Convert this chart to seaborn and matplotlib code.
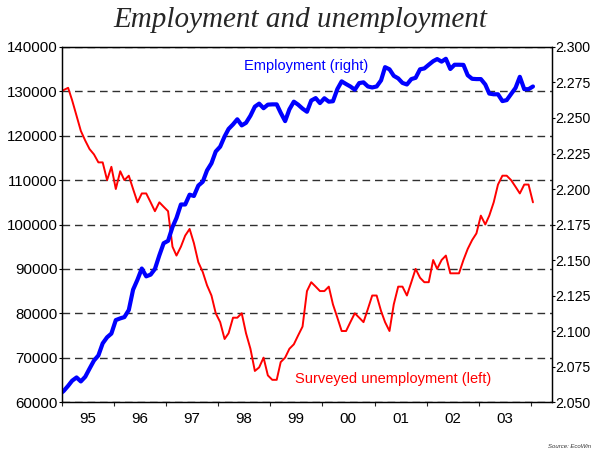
# %%
# * 1. Import packages
import matplotlib
matplotlib.use("Agg")
import matplotlib.pyplot as plt
import matplotlib.dates as mdates
import matplotlib.ticker as mticker
import seaborn as sns
import pandas as pd

# %%
# * 2. Data (monthly, Dec 1994 - Jan 2004)
months = pd.date_range("1994-12-01", periods=110, freq="MS") + pd.Timedelta(days=14)

# Surveyed unemployment (left axis)
unemployment = [
    129500, 130300, 130800, 128000, 124500, 121100, 118900, 117000, 115800, 114000,
    114000, 110000, 113000, 108000, 112000, 110000, 111000, 108000, 105000, 107000,
    107000, 105000, 103000, 105000, 104000, 103000, 95000, 93000, 95000, 97500,
    99000, 95800, 91500, 89300, 86300, 84000, 80000, 78000, 74200, 75500,
    79000, 79000, 80000, 75500, 72000, 67000, 67800, 70000, 66000, 65000,
    65000, 69000, 70000, 72000, 73000, 75000, 77000, 85000, 87000, 86000,
    85000, 85000, 86000, 82000, 79000, 76000, 76000, 78000, 80000, 79000,
    78000, 81000, 84000, 84000, 80500, 78000, 76000, 82000, 86000, 86000,
    84000, 87000, 90000, 88000, 87000, 87000, 92000, 90000, 92000, 93000,
    89000, 89000, 89000, 92000, 94500, 96500, 98000, 102000, 100000, 102000,
    105000, 109000, 111000, 111000, 110000, 108500, 107000, 109000, 109000, 105000,
]

# Employment (right axis)
employment = [
    2.0553, 2.0578, 2.0614, 2.0650, 2.0673, 2.0645, 2.0678, 2.0735, 2.0792, 2.0828,
    2.0913, 2.0956, 2.0982, 2.1077, 2.1089, 2.1098, 2.1148, 2.1291, 2.1362, 2.1440,
    2.1385, 2.1397, 2.1437, 2.1533, 2.1618, 2.1635, 2.1732, 2.1796, 2.1891, 2.1891,
    2.1960, 2.1951, 2.2024, 2.2051, 2.2131, 2.2181, 2.2264, 2.2298, 2.2370, 2.2423,
    2.2455, 2.2491, 2.2448, 2.2466, 2.2516, 2.2580, 2.2601, 2.2569, 2.2594, 2.2596,
    2.2596, 2.2537, 2.2478, 2.2561, 2.2615, 2.2594, 2.2566, 2.2544, 2.2623, 2.2640,
    2.2605, 2.2639, 2.2615, 2.2618, 2.2704, 2.2758, 2.2739, 2.2722, 2.2699, 2.2746,
    2.2751, 2.2722, 2.2715, 2.2722, 2.2765, 2.2858, 2.2843, 2.2797, 2.2779, 2.2747,
    2.2736, 2.2774, 2.2783, 2.2843, 2.2849, 2.2875, 2.2900, 2.2915, 2.2897, 2.2917,
    2.2845, 2.2875, 2.2875, 2.2874, 2.2801, 2.2776, 2.2774, 2.2774, 2.2736, 2.2672,
    2.2667, 2.2667, 2.2619, 2.2626, 2.2669, 2.2712, 2.2790, 2.2703, 2.2703, 2.2722,
]

left_ticks = list(range(60000, 140001, 10000))
right_ticks = [2.050, 2.075, 2.100, 2.125, 2.150, 2.175, 2.200, 2.225, 2.250, 2.275, 2.300]

# %%
# * 3. Style
sns.set_style("ticks")
plt.rcParams["font.family"] = ["Liberation Sans", "DejaVu Sans"]

# %%
# * 4. Plot
fig = plt.figure(figsize=(5.91, 4.51), dpi=100)
ax = fig.add_axes([0.1044, 0.1086, 0.8288, 0.7872])
ax2 = ax.twinx()

sns.lineplot(x=months, y=unemployment, ax=ax, color="#ff0000", linewidth=1.4)
sns.lineplot(x=months, y=employment, ax=ax2, color="#0000ff", linewidth=3.0)

ax.set_xlim(pd.Timestamp("1995-01-01"), pd.Timestamp("2004-05-24"))
ax.set_ylim(60000, 140000)
ax2.set_ylim(2.050, 2.300)
ax.set_yticks(left_ticks)
ax2.set_yticks(right_ticks)
ax.yaxis.set_major_formatter(mticker.FormatStrFormatter("%d"))
ax2.yaxis.set_major_formatter(mticker.FormatStrFormatter("%.3f"))

# years: ticks at year boundaries, labels mid-year
ax.xaxis.set_major_locator(mdates.YearLocator())
ax.xaxis.set_major_formatter(mticker.NullFormatter())
ax.xaxis.set_minor_locator(mdates.MonthLocator(bymonth=7))
ax.xaxis.set_minor_formatter(mdates.DateFormatter("%y"))

ax.yaxis.grid(True, linestyle=(0, (5.5, 3.5)), color="#303030", linewidth=1.0)
ax.set_xlabel("")
ax.set_ylabel("")
ax2.set_ylabel("")

ax.tick_params(axis="y", which="major", length=2, width=0.8, pad=1,
               labelsize=10.8, colors="black")
ax2.tick_params(axis="y", which="major", length=2, width=0.8, pad=0.8,
                labelsize=10.2, colors="black")
ax.tick_params(axis="x", which="major", length=3, width=0.8)
ax.tick_params(axis="x", which="minor", length=0, pad=7, labelsize=10.8,
               colors="black")
for a in (ax, ax2):
    for sp in a.spines.values():
        sp.set_visible(True)
        sp.set_color("black")
        sp.set_linewidth(0.9)

# series labels
fig.text(0.5178, 0.8543, "Employment (right)", color="#0000ff",
         fontsize=10.5, ha="center", va="center")
fig.text(0.6655, 0.1590, "Surveyed unemployment (left)", color="#ff0000",
         fontsize=10.5, ha="center", va="center")

# title and source
fig.text(0.5076, 0.9557, "Employment and unemployment",
         family=["Liberation Serif", "DejaVu Serif"], style="italic",
         fontsize=21, ha="center", va="center")
fig.text(548 / 591, 1 - 446 / 451, "Source: EcoWin", style="italic",
         fontsize=4.3, ha="left", va="center", color="#333333")

# Save the plot
fig.savefig("out.png", dpi=100)
